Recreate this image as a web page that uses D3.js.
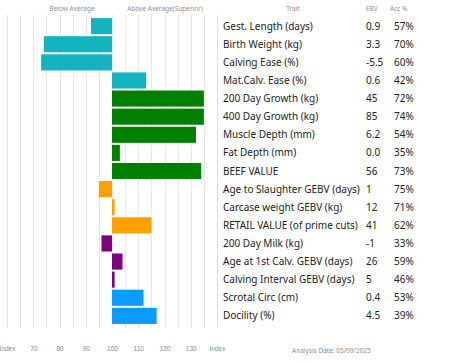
<!DOCTYPE html>
<html>
<head>
<meta charset="utf-8">
<script src="https://cdn.jsdelivr.net/npm/d3@7"></script>
<style>
  body { margin: 0; background: #fff; }
  svg { display: block; font-family: 'Noto Sans', sans-serif; }
  .grid line { stroke: #e8e8e8; stroke-width: 1; }
  .head { fill: #8f8f8f; font-size: 6.5px; }
  .trait { fill: #222; font-size: 10px; }
  .axis text { fill: #888; font-size: 6.5px; }
</style>
</head>
<body>
<div id="chart"></div>
<script>
// Trait rows, top to bottom
const traits = [
  'Gest. Length (days)', 'Birth Weight (kg)', 'Calving Ease (%)', 'Mat.Calv. Ease (%)',
  '200 Day Growth (kg)', '400 Day Growth (kg)', 'Muscle Depth (mm)', 'Fat Depth (mm)',
  'BEEF VALUE', 'Age to Slaughter GEBV (days)', 'Carcase weight GEBV (kg)',
  'RETAIL VALUE (of prime cuts)', '200 Day Milk (kg)', 'Age at 1st Calv. GEBV (days)',
  'Calving Interval GEBV (days)', 'Scrotal Circ (cm)', 'Docility (%)'
];
const ebv = ['0.9', '3.3', '-5.5', '0.6', '45', '85', '6.2', '0.0', '56', '1', '12', '41',
  '-1', '26', '5', '0.4', '4.5'];
const acc = ['57%', '70%', '60%', '42%', '72%', '74%', '54%', '35%', '73%', '75%', '71%',
  '62%', '33%', '59%', '46%', '53%', '39%'];
// index value of each bar (100 = average)
const index = [92, 74, 73, 113, 135, 135, 132, 103, 134, 95, 101, 115, 96, 104, 101, 112, 117];
const group = ['calving', 'calving', 'calving', 'calving', 'growth', 'growth', 'growth',
  'growth', 'growth', 'carcase', 'carcase', 'carcase', 'fertility', 'fertility', 'fertility',
  'other', 'other'];
const groupColor = {
  calving: '#14b4be', growth: '#008000', carcase: '#ffa000',
  fertility: '#800080', other: '#0a9bff'
};
const tickValues = [60, 70, 80, 90, 100, 110, 120, 130, 140];

const W = 453, H = 362;
const svg = d3.select('#chart').append('svg').attr('width', W).attr('height', H);

const x = d3.scaleLinear().domain([60, 140]).range([7, 217]);
const y = d3.scaleBand().domain(traits).range([17, 325]).paddingInner(0.11).paddingOuter(0.06);

// Gridlines every 5 index points
const grid = svg.append('g').attr('class', 'grid');
grid.selectAll('line')
  .data(d3.range(60, 141, 5))
  .join('line')
  .attr('x1', d => Math.round(x(d)) + 0.5)
  .attr('x2', d => Math.round(x(d)) + 0.5)
  .attr('y1', 15).attr('y2', 328)
  .style('stroke', d => d === 140 ? '#dcdcdc' : null);

// Bars from 100
svg.append('g').selectAll('rect')
  .data(traits)
  .join('rect')
  .attr('x', (d, i) => x(Math.min(100, index[i])))
  .attr('width', (d, i) => Math.abs(x(index[i]) - x(100)))
  .attr('y', d => y(d))
  .attr('height', y.bandwidth())
  .attr('fill', (d, i) => groupColor[group[i]]);

// Headers
svg.append('text').attr('class', 'head').attr('x', 72).attr('y', 11)
  .attr('text-anchor', 'middle').text('Below Average');
svg.append('text').attr('class', 'head').attr('x', 165).attr('y', 11)
  .attr('text-anchor', 'middle').text('Above Average(Superior)');
svg.append('text').attr('class', 'head').attr('x', 293).attr('y', 11)
  .attr('text-anchor', 'middle').text('Trait');
svg.append('text').attr('class', 'head').attr('x', 366).attr('y', 11).text('EBV');
svg.append('text').attr('class', 'head').attr('x', 390).attr('y', 11).text('Acc %');

// Table rows
const rows = svg.append('g').selectAll('g')
  .data(traits)
  .join('g')
  .attr('transform', d => `translate(0,${y(d) + y.bandwidth() / 2})`);
rows.append('text').attr('class', 'trait').attr('x', 223).attr('dy', '0.35em').text(d => d);
rows.append('text').attr('class', 'trait').attr('x', 366).attr('dy', '0.35em').text((d, i) => ebv[i]);
rows.append('text').attr('class', 'trait').attr('x', 394).attr('dy', '0.35em').text((d, i) => acc[i]);

// Bottom axis
const xAxis = d3.axisBottom(x).tickValues(tickValues).tickSize(0).tickPadding(0)
  .tickFormat(d => (d === 60 || d === 140) ? 'Index' : d);
svg.append('g').attr('class', 'axis')
  .attr('transform', 'translate(0,346)')
  .call(xAxis)
  .call(g => g.select('.domain').remove());

svg.append('text').attr('class', 'head').attr('x', 292).attr('y', 353)
  .text('Analysis Date: 05/09/2025');
</script>
</body>
</html>
